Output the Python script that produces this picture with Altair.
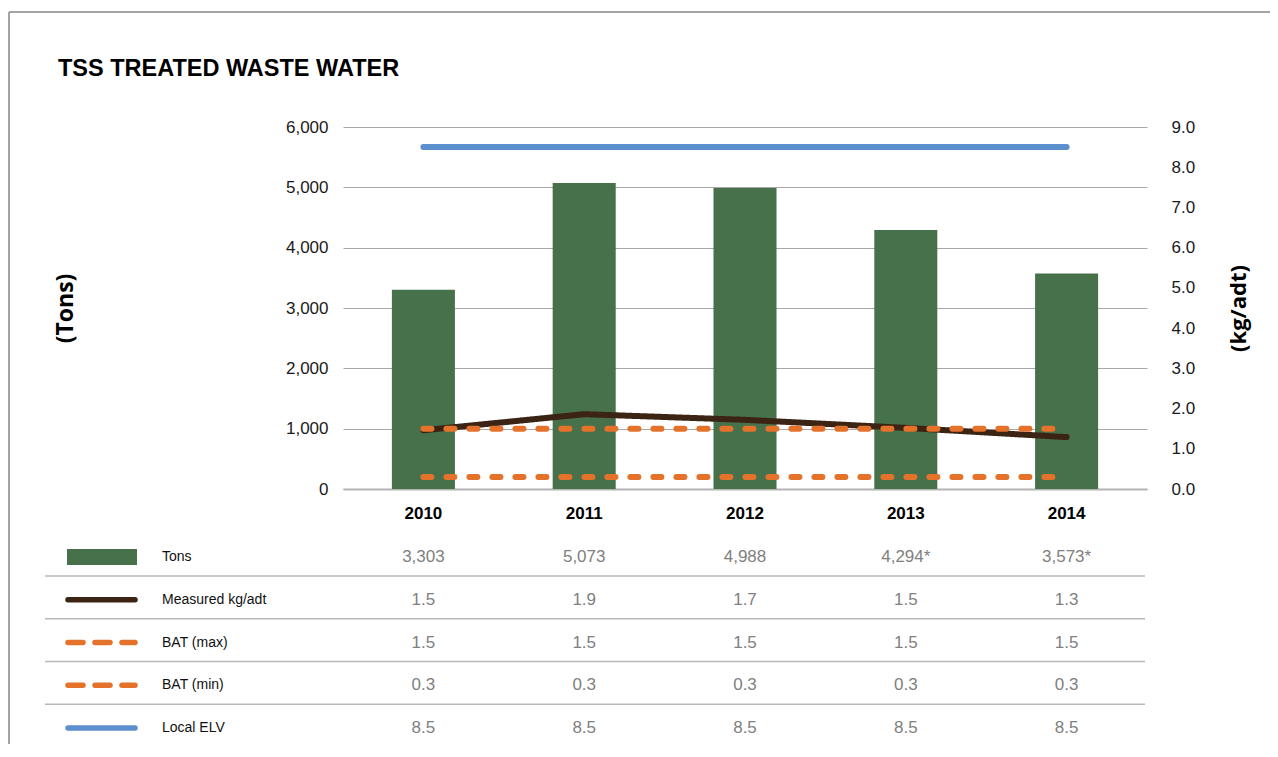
import altair as alt
import pandas as pd

# ---------------- data ----------------
years = ["2010", "2011", "2012", "2013", "2014"]
tons = [3303, 5073, 4988, 4294, 3573]
tons_note = ["", "", "", "*", "*"]
measured = [1.46, 1.86, 1.72, 1.52, 1.29]
bat_max = [1.5, 1.5, 1.5, 1.5, 1.5]
bat_min = [0.3, 0.3, 0.3, 0.3, 0.3]
local_elv = [8.5, 8.5, 8.5, 8.5, 8.5]
row_names = ["Tons", "Measured kg/adt", "BAT (max)", "BAT (min)", "Local ELV"]
left_ticks = [0, 1000, 2000, 3000, 4000, 5000, 6000]
right_ticks = [0, 1, 2, 3, 4, 5, 6, 7, 8, 9]

line_names = row_names[1:]
line_values = [measured, bat_max, bat_min, local_elv]

# ---------------- styles ----------------
GREEN = "#46714b"
BROWN = "#3c2415"
ORANGE = "#e4722b"
BLUE = "#5b8fcd"
line_colors = [BROWN, ORANGE, ORANGE, BLUE]
plot_dash = [[1, 0], [8, 15], [8, 15], [1, 0]]
swatch_dash = [[1, 0], [15, 12], [15, 12], [1, 0]]
FONT = "Liberation Sans"
TITLE_FONT = "Open Sans"

W, H = 804, 362
PAD_L, PAD_T, PAD_R, PAD_B = 335, 119, 123, 255
OX, OY = 8 + PAD_L, 8 + PAD_T  # page position of the plot origin


def px(x):
    return x - OX


def py(y):
    return y - OY


# ---------------- tables ----------------
bars_df = pd.DataFrame({"year": years, "tons": tons})
lines_df = pd.DataFrame(
    [{"year": y, "series": s, "kg": v}
     for s, vals in zip(line_names, line_values) for y, v in zip(years, vals)]
)
cells = [{"year": y, "row": "Tons", "label": f"{t:,}{n}"}
         for y, t, n in zip(years, tons, tons_note)]
cells += [{"year": y, "row": s, "label": f"{v:.1f}"}
          for s, vals in zip(line_names, line_values) for y, v in zip(years, vals)]
table_df = pd.DataFrame(cells)
rows_df = pd.DataFrame({"row": row_names})
one_df = pd.DataFrame({"k": [0]})

# ---------------- encodings ----------------
x_enc = alt.X(
    "year:N", sort=years,
    scale=alt.Scale(type="band", paddingInner=0.608, paddingOuter=0.304),
    axis=alt.Axis(title=None, labelAngle=0, labelFont=FONT, labelFontSize=17,
                  labelFontWeight="bold", labelColor="#000000", labelPadding=16,
                  ticks=False, domain=True, domainColor="#b3b3b3", domainWidth=2,
                  grid=False),
)

row_scale = alt.Scale(type="point", domain=row_names, padding=0,
                      range=[py(557), py(728)])


def row_y():
    return alt.Y("row:N", scale=row_scale, axis=None)


bars = alt.Chart(bars_df).mark_bar(color=GREEN).encode(
    x=x_enc,
    y=alt.Y("tons:Q", scale=alt.Scale(domain=[0, 6000]),
            axis=alt.Axis(values=left_ticks, format=",.0f", ticks=False, domain=False,
                          grid=True, gridColor="#a8a8a8", gridWidth=1,
                          labelFont=FONT, labelFontSize=17, labelColor="#1a1a1a",
                          labelPadding=15,
                          title="(Tons)", titleFont=TITLE_FONT, titleFontSize=23,
                          titleFontWeight="bold", titleColor="#000000",
                          titleAngle=270, titleX=px(65), titleY=H / 2,
                          titleAlign="center", titleBaseline="middle")),
)

lines = alt.Chart(lines_df).mark_line(strokeWidth=6, strokeCap="round",
                                      strokeJoin="round").encode(
    x=x_enc,
    y=alt.Y("kg:Q", scale=alt.Scale(domain=[0, 9]),
            axis=alt.Axis(orient="right", values=right_ticks, format=".1f",
                          ticks=False, domain=False, grid=False,
                          labelFont=FONT, labelFontSize=17, labelColor="#1a1a1a",
                          labelPadding=24,
                          title="(kg/adt)", titleFont=TITLE_FONT, titleFontSize=22,
                          titleFontWeight="bold", titleColor="#000000",
                          titleAngle=270, titleX=1238 - (OX + W), titleY=H / 2,
                          titleAlign="center", titleBaseline="middle")),
    color=alt.Color("series:N", scale=alt.Scale(domain=line_names, range=line_colors),
                    legend=None),
    strokeDash=alt.StrokeDash("series:N",
                              scale=alt.Scale(domain=line_names, range=plot_dash),
                              legend=None),
)

table_values = alt.Chart(table_df).mark_text(
    font=FONT, fontSize=17, color="#808080", baseline="middle").encode(
    x=x_enc, y=row_y(), text="label:N")

table_labels = alt.Chart(rows_df).mark_text(
    font=FONT, fontSize=14, color="#111111", align="left", baseline="middle").encode(
    x=alt.value(px(162)), y=row_y(), text="row:N")

tons_swatch = alt.Chart(rows_df).transform_filter(
    alt.datum.row == row_names[0]).mark_rule(
    color=GREEN, strokeWidth=16, strokeCap="butt").encode(
    x=alt.value(px(67)), x2=alt.value(px(137)), y=row_y())

line_swatches = alt.Chart(rows_df).transform_filter(
    alt.datum.row != row_names[0]).mark_rule(strokeWidth=5.5, strokeCap="round").encode(
    x=alt.value(px(68)), x2=alt.value(px(135)), y=row_y(),
    color=alt.Color("row:N", scale=alt.Scale(domain=line_names, range=line_colors),
                    legend=None),
    strokeDash=alt.StrokeDash("row:N",
                              scale=alt.Scale(domain=line_names, range=swatch_dash),
                              legend=None),
)

separators = alt.Chart(rows_df).transform_filter(
    alt.datum.row != row_names[-1]).mark_rule(
    color="#b8b8b8", strokeWidth=1.5, yOffset=19).encode(
    x=alt.value(px(45)), x2=alt.value(px(1145)), y=row_y())

border_left = alt.Chart(one_df).mark_rule(color="#a3a3a3", strokeWidth=2).encode(
    x=alt.value(px(9)), y=alt.value(py(12)), y2=alt.value(py(760)))
border_top = alt.Chart(one_df).mark_rule(color="#a3a3a3", strokeWidth=2).encode(
    x=alt.value(px(9)), x2=alt.value(px(1290)), y=alt.value(py(12)))

chart = alt.layer(
    border_left, border_top, bars, lines, separators, tons_swatch, line_swatches,
    table_labels, table_values,
).resolve_scale(
    y="independent", color="independent", strokeDash="independent"
).properties(
    width=W, height=H,
    autosize=alt.AutoSizeParams(type="none"),
    padding={"left": PAD_L, "top": PAD_T, "right": PAD_R, "bottom": PAD_B},
    title=alt.Title("TSS TREATED WASTE WATER", anchor="start", frame="group",
                    font=FONT, fontSize=23.5, fontWeight="bold", color="#000000",
                    dx=px(58), dy=73),
).configure_view(strokeWidth=0)

chart.save("out.html", embed_options={"renderer": "svg", "actions": False})
